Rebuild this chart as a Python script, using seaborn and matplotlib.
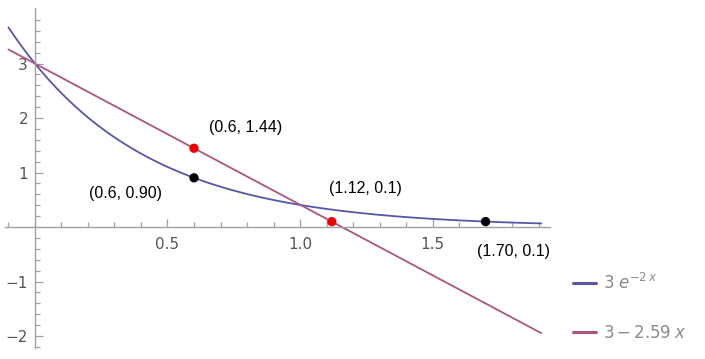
import numpy as np
import pandas as pd
import seaborn as sns
import matplotlib.pyplot as plt
import matplotlib.ticker as mticker
from matplotlib.lines import Line2D

# ---- data ----
exp_amp, exp_rate = 3.0, -2.0          # 3 e^{-2x}
lin_icpt, lin_slope = 3.0, -2.59       # 3 - 2.59 x
x_range = [-0.1, 1.91]
curve_labels = [r'$3\;e^{-2\,x}$', r'$3 - 2.59\;x$']

black_pts_x = [0.6, 1.70]
black_pts_y = [0.9036, 0.1]
black_labels = ['(0.6, 0.90)', '(1.70, 0.1)']
red_pts_x = [0.6, 1.12]
red_pts_y = [1.446, 0.099]
red_labels = ['(0.6, 1.44)', '(1.12, 0.1)']

xticks_major = [0.5, 1.0, 1.5]
xtick_labels = ['0.5', '1.0', '1.5']
yticks_major = [-2, -1, 1, 2, 3]
ytick_labels = ['\u22122', '\u22121', '1', '2', '3']

# ---- build curves ----
xs = np.linspace(x_range[0], x_range[1], 400)
df = pd.concat([
    pd.DataFrame({'x': xs, 'y': exp_amp * np.exp(exp_rate * xs), 'f': curve_labels[0]}),
    pd.DataFrame({'x': xs, 'y': lin_icpt + lin_slope * xs, 'f': curve_labels[1]}),
])

sns.set_style('white')
plt.rcParams['mathtext.fontset'] = 'dejavusans'

fig = plt.figure(figsize=(7.05, 3.59), dpi=100)
ax = fig.add_axes([5 / 705, 11 / 359, 545 / 705, 340 / 359])

palette = {curve_labels[0]: '#5656aa', curve_labels[1]: '#ad5580'}
sns.lineplot(data=df, x='x', y='y', hue='f', palette=palette, ax=ax,
             linewidth=1.3, legend=False, sort=False)

sns.scatterplot(x=red_pts_x, y=red_pts_y, color='#ee0000', s=45, ax=ax,
                edgecolor='none', zorder=5)
sns.scatterplot(x=black_pts_x, y=black_pts_y, color='black', s=45, ax=ax,
                edgecolor='none', zorder=5)

ax.set_xlim(-0.113, 1.943)
ax.set_ylim(-2.22, 4.02)

# axes through origin
for s in ['top', 'right']:
    ax.spines[s].set_visible(False)
ax.spines['left'].set_position(('data', 0))
ax.spines['bottom'].set_position(('data', 0))
for s in ['left', 'bottom']:
    ax.spines[s].set_color('#a0a0a0')
    ax.spines[s].set_linewidth(1.0)

ax.set_xticks(xticks_major)
ax.set_xticklabels(xtick_labels)
ax.set_yticks(yticks_major)
ax.set_yticklabels(ytick_labels)
ax.xaxis.set_minor_locator(mticker.FixedLocator(np.round(np.arange(-0.1, 1.95, 0.1), 2)))
ax.yaxis.set_minor_locator(mticker.FixedLocator(np.round(np.arange(-2.2, 3.9, 0.2), 2)))
ax.tick_params(which='both', bottom=True, left=True, top=False, right=False,
               direction='in', color='#a0a0a0', width=0.9,
               labelcolor='#555555', labelsize=11)
ax.tick_params(which='major', length=6)
ax.tick_params(which='minor', length=3.5)
ax.tick_params(axis='x', which='major', pad=7)
ax.tick_params(axis='y', which='major', pad=5)
ax.set_xlabel('')
ax.set_ylabel('')

# annotations
ann_font = dict(fontsize=11.5, family='Liberation Sans', color='black',
                ha='center', va='center')
ax.annotate(black_labels[0], (black_pts_x[0], black_pts_y[0]),
            xytext=(-49, -11), textcoords='offset points', **ann_font)
ax.annotate(red_labels[0], (red_pts_x[0], red_pts_y[0]),
            xytext=(37, 15), textcoords='offset points', **ann_font)
ax.annotate(red_labels[1], (red_pts_x[1], red_pts_y[1]),
            xytext=(24, 24), textcoords='offset points', **ann_font)
ax.annotate(black_labels[1], (black_pts_x[1], black_pts_y[1]),
            xytext=(20, -21.5), textcoords='offset points', **ann_font)

# legend outside
handles = [Line2D([0], [0], color=palette[c], lw=2.2) for c in curve_labels]
leg = fig.legend(handles, curve_labels, loc='upper left',
                 bbox_to_anchor=(0.791, 0.283), frameon=False,
                 fontsize=12, handlelength=1.4, handletextpad=0.4,
                 labelspacing=1.9, labelcolor='#8a8a8a')

fig.savefig('out.png', dpi=100)
